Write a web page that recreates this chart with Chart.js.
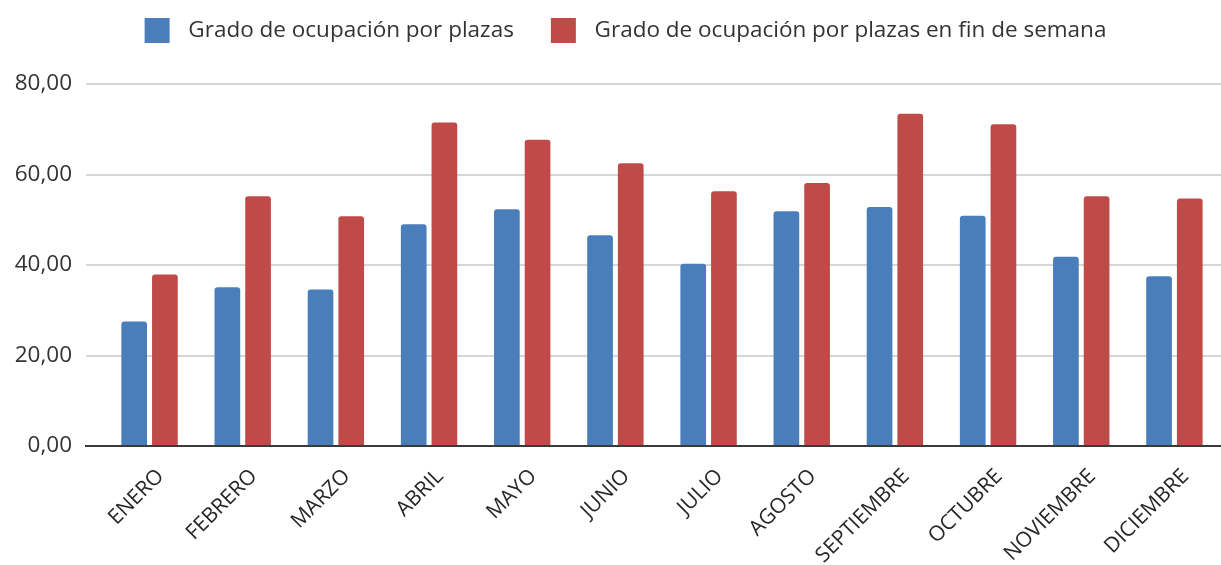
<!DOCTYPE html>
<html>
<head>
<meta charset="utf-8">
<script src="https://cdn.jsdelivr.net/npm/chart.js@4.4.1/dist/chart.umd.min.js"></script>
<style>
  html, body { margin: 0; padding: 0; background: #ffffff; }
  #wrap { width: 1221px; height: 565px; position: relative; }
</style>
</head>
<body>
<div id="wrap"><canvas id="c"></canvas></div>
<script>
const months = ['ENERO','FEBRERO','MARZO','ABRIL','MAYO','JUNIO','JULIO','AGOSTO','SEPTIEMBRE','OCTUBRE','NOVIEMBRE','DICIEMBRE'];
const seriesNames = ['Grado de ocupación por plazas', 'Grado de ocupación por plazas en fin de semana'];
const plazas = [27.5, 35.1, 34.6, 49.0, 52.3, 46.6, 40.3, 51.9, 52.8, 50.9, 41.8, 37.5];
const plazasFinSemana = [37.9, 55.2, 50.8, 71.5, 67.7, 62.5, 56.3, 58.1, 73.4, 71.1, 55.2, 54.7];
const yTicks = [0, 20, 40, 60, 80];

const toPoints = arr => arr.map((v, i) => ({ x: i, y: v }));

const legendSpacer = {
  id: 'legendSpacer',
  beforeLayout(chart) {
    const lg = chart.legend;
    if (lg && !lg._spacerPatched) {
      const orig = lg.fit;
      lg.fit = function () { orig.call(this); this.height += 31; };
      lg._spacerPatched = true;
    }
  },
  afterLayout(chart) {
    const lg = chart.legend;
    if (lg) { lg.left += 15; lg.right += 15; }
  }
};

new Chart(document.getElementById('c'), {
  type: 'bar',
  data: {
    datasets: [
      {
        label: seriesNames[0],
        data: toPoints(plazas),
        backgroundColor: '#4a7ebb',
        borderRadius: { topLeft: 3, topRight: 3, bottomLeft: 0, bottomRight: 0 },
        borderSkipped: false,
        categoryPercentage: 0.659,
        barPercentage: 0.837
      },
      {
        label: seriesNames[1],
        data: toPoints(plazasFinSemana),
        backgroundColor: '#be4b48',
        borderRadius: { topLeft: 3, topRight: 3, bottomLeft: 0, bottomRight: 0 },
        borderSkipped: false,
        categoryPercentage: 0.659,
        barPercentage: 0.837
      }
    ]
  },
  options: {
    responsive: true,
    maintainAspectRatio: false,
    animation: false,
    layout: { padding: { top: -19, left: 0, right: 0, bottom: 0 } },
    plugins: {
      legend: {
        position: 'top',
        labels: {
          boxWidth: 25,
          boxHeight: 25,
          padding: 37,
          color: '#333333',
          font: { family: 'Open Sans', size: 22.5 },
          generateLabels(chart) {
            return chart.data.datasets.map((ds, i) => ({
              text: '\u2004' + ds.label,
              fillStyle: ds.backgroundColor,
              strokeStyle: ds.backgroundColor,
              lineWidth: 0,
              hidden: false,
              datasetIndex: i,
              fontColor: '#333333'
            }));
          }
        }
      },
      tooltip: { enabled: false }
    },
    scales: {
      x: {
        type: 'linear',
        min: -0.682,
        max: 11.5,
        offset: false,
        grid: { display: false, drawTicks: false },
        border: { display: true, color: '#3a3a3a', width: 2 },
        afterBuildTicks(scale) {
          scale.ticks = months.map((m, i) => ({ value: i }));
        },
        afterFit(scale) { scale.height = 119; },
        ticks: {
          autoSkip: false,
          includeBounds: false,
          stepSize: 1,
          maxRotation: 45,
          minRotation: 45,
          padding: 18,
          labelOffset: 11,
          color: '#262626',
          font: { family: 'Open Sans', size: 21 },
          callback: (v) => months[v] !== undefined ? months[v] : ''
        }
      },
      y: {
        min: 0,
        max: 80,
        afterBuildTicks(scale) {
          scale.ticks = yTicks.map(v => ({ value: v }));
        },
        afterFit(scale) { scale.width = 86; },
        grid: {
          color: '#d6d6d6',
          lineWidth: 2,
          drawTicks: false
        },
        border: { display: false },
        ticks: {
          padding: 14,
          color: '#333333',
          font: { family: 'Open Sans', size: 22.5 },
          callback: (v) => v.toFixed(2).replace('.', ',')
        }
      }
    }
  },
  plugins: [legendSpacer]
});
</script>
</body>
</html>
